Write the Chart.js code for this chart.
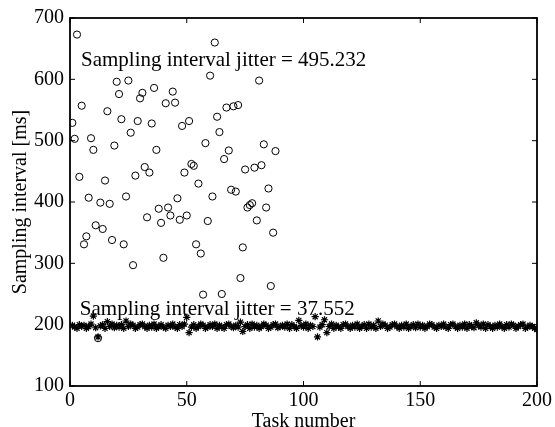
<!DOCTYPE html>
<html>
<head>
<meta charset="utf-8">
<script src="https://cdn.jsdelivr.net/npm/chart.js@4.4.1/dist/chart.umd.min.js"></script>
<style>
  html, body { margin: 0; padding: 0; background: #fff; }
  #wrap { width: 555px; height: 427px; }
</style>
</head>
<body>
<div id="wrap"><canvas id="jitterChart"></canvas></div>
<script>
// axis ticks
const xTicks = [0, 50, 100, 150, 200];
const yTicks = [100, 200, 300, 400, 500, 600, 700];

// circles: tasks 1..88
const slowTasks = [];
for (let i = 1; i <= 88; i++) slowTasks.push(i);
const slowIntervals = [
    529, 503, 673, 441, 557, 331, 344, 407, 504, 485,
    362, 178, 399, 356, 435, 548, 397, 338, 492, 596,
    576, 535, 331, 409, 598, 513, 297, 443, 532, 569,
    578, 457, 375, 448, 528, 586, 485, 389, 366, 309,
    561, 391, 378, 580, 562, 406, 371, 524, 448, 378,
    532, 462, 459, 331, 430, 316, 249, 496, 369, 606,
    409, 660, 539, 514, 250, 470, 554, 484, 420, 556,
    417, 558, 276, 326, 453, 391, 395, 398, 456, 370,
    598, 460, 494, 391, 422, 263, 350, 483
];

// asterisks: tasks 1..200
const fastTasks = [];
for (let i = 1; i <= 200; i++) fastTasks.push(i);
const fastIntervals = [
    199, 196, 194, 200, 197, 199, 194, 197, 201, 214, 195, 180, 198, 200, 194, 205, 197, 201, 195, 199,
    196, 200, 194, 206, 197, 201, 199, 194, 196, 200, 201, 197, 194, 199, 196, 201, 194, 197, 200, 196,
    194, 199, 197, 201, 196, 194, 200, 197, 201, 212, 187, 196, 200, 194, 197, 201, 199, 194, 196, 200,
    197, 201, 194, 199, 196, 194, 200, 201, 197, 195, 199, 196, 204, 189, 197, 200, 194, 201, 196, 199,
    194, 197, 201, 199, 194, 196, 200, 201, 195, 197, 199, 196, 201, 194, 200, 197, 194, 207, 199, 196,
    201, 194, 199, 197, 213, 180, 196, 200, 208, 187, 197, 201, 194, 199, 196, 194, 200, 201, 197, 194,
    199, 196, 201, 194, 197, 200, 194, 201, 196, 199, 194, 206, 197, 201, 199, 194, 196, 200, 201, 197,
    194, 199, 196, 201, 194, 197, 200, 195, 201, 196, 199, 194, 197, 201, 200, 196, 194, 199, 197, 201,
    196, 194, 200, 201, 197, 194, 199, 196, 201, 194, 200, 197, 195, 203, 199, 196, 201, 194, 200, 197,
    194, 199, 196, 201, 197, 194, 200, 196, 201, 199, 194, 197, 200, 201, 194, 196, 199, 197, 194, 192
];

// text labels placed in data coordinates
const noteTexts = ["Sampling interval jitter = 495.232", "Sampling interval jitter = 37.552"];
const noteX = [4.7, 4.2];
const noteY = [622, 215];

const FONT = "'Liberation Serif', 'Times New Roman', serif";
Chart.defaults.font.family = FONT;
Chart.defaults.font.size = 20;
Chart.defaults.color = "#000";

// box around the plot with inward ticks on all four sides
const boxPlugin = {
    id: "box",
    afterDatasetsDraw(chart) {
        const { ctx, chartArea: a, scales } = chart;
        ctx.save();
        ctx.strokeStyle = "#000";
        ctx.lineWidth = 1.8;
        ctx.strokeRect(a.left, a.top, a.right - a.left, a.bottom - a.top);
        ctx.lineWidth = 1;
        ctx.beginPath();
        xTicks.forEach((v) => {
            const px = scales.x.getPixelForValue(v);
            ctx.moveTo(px, a.bottom); ctx.lineTo(px, a.bottom - 5);
            ctx.moveTo(px, a.top); ctx.lineTo(px, a.top + 5);
        });
        yTicks.forEach((v) => {
            const py = scales.y.getPixelForValue(v);
            ctx.moveTo(a.left, py); ctx.lineTo(a.left + 5, py);
            ctx.moveTo(a.right, py); ctx.lineTo(a.right - 5, py);
        });
        ctx.stroke();

        // annotations
        ctx.fillStyle = "#000";
        ctx.font = "21px " + FONT;
        ctx.textAlign = "left";
        ctx.textBaseline = "alphabetic";
        noteTexts.forEach((t, i) => {
            ctx.fillText(t, scales.x.getPixelForValue(noteX[i]), scales.y.getPixelForValue(noteY[i]));
        });
        ctx.restore();
    },
};

const ctx = document.getElementById("jitterChart").getContext("2d");
new Chart(ctx, {
    type: "scatter",
    data: {
        datasets: [
            {
                label: "fast",
                data: fastTasks.map((t, i) => ({ x: t, y: fastIntervals[i] })),
                pointStyle: "star",
                radius: 3.6,
                borderColor: "#000",
                backgroundColor: "#000",
                borderWidth: 1.2,
            },
            {
                label: "slow",
                data: slowTasks.map((t, i) => ({ x: t, y: slowIntervals[i] })),
                pointStyle: "circle",
                radius: 3.6,
                borderColor: "#000",
                backgroundColor: "rgba(0,0,0,0)",
                borderWidth: 1,
            },
        ],
    },
    options: {
        responsive: true,
        maintainAspectRatio: false,
        animation: false,
        events: [],
        layout: { padding: { left: 0, right: 17, top: 17, bottom: 0 } },
        plugins: { legend: { display: false }, tooltip: { enabled: false } },
        scales: {
            x: {
                type: "linear",
                min: 0,
                max: 200,
                afterBuildTicks: (s) => { s.ticks = xTicks.map((v) => ({ value: v })); },
                afterFit: (s) => { s.height = 41; },
                ticks: { padding: 3, maxRotation: 0 },
                grid: { display: false, drawTicks: false },
                border: { display: false },
                title: { display: true, text: "Task number", padding: { top: 0, bottom: -7 } },
            },
            y: {
                type: "linear",
                min: 100,
                max: 700,
                afterBuildTicks: (s) => { s.ticks = yTicks.map((v) => ({ value: v })); },
                afterFit: (s) => { s.width = 70; },
                ticks: { padding: 6 },
                grid: { display: false, drawTicks: false },
                border: { display: false },
                title: { display: true, text: "Sampling interval [ms]", padding: { top: 9, bottom: 0 } },
            },
        },
    },
    plugins: [boxPlugin],
});
</script>
</body>
</html>
